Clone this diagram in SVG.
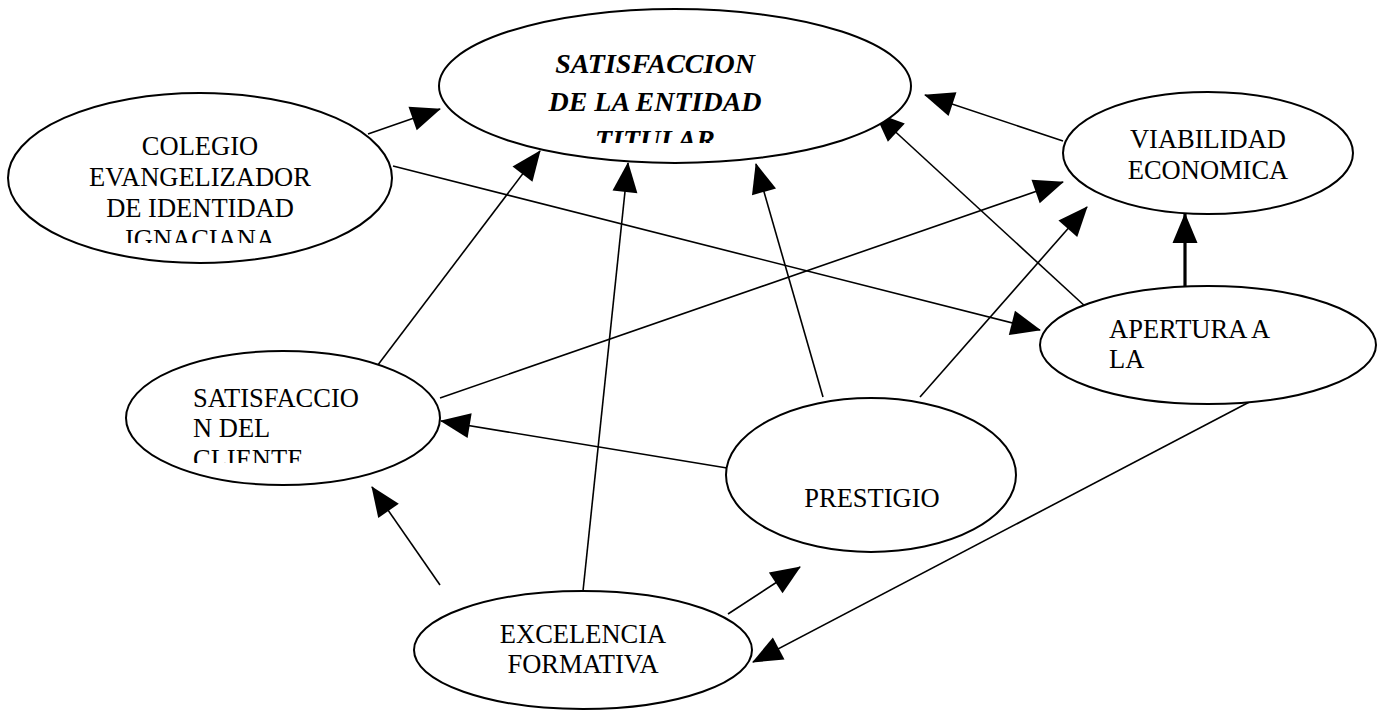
<svg xmlns="http://www.w3.org/2000/svg" width="1385" height="711" viewBox="0 0 1385 711">
<style>
.n{fill:#fff;stroke:#000;stroke-width:2}
.t{font-family:"Liberation Serif","Times New Roman",serif;font-size:26.5px;fill:#000}
.c{text-anchor:middle}
.bi{font-weight:bold;font-style:italic;font-size:28px}
.e{fill:none;stroke:#000;stroke-width:1.6;marker-end:url(#ah)}
.k{fill:none;stroke:#000;stroke-width:3.2;marker-end:url(#ah)}
</style>
<defs>
<marker id="ah" markerUnits="userSpaceOnUse" markerWidth="30" markerHeight="26" refX="29" refY="12.5" orient="auto" overflow="visible">
<path d="M0,0 L30,12.5 L0,25 Z" fill="#000"/>
</marker>
<clipPath id="cm"><rect x="430" y="0" width="500" height="143"/></clipPath>
<clipPath id="cc"><rect x="0" y="80" width="400" height="163"/></clipPath>
<clipPath id="cs"><rect x="120" y="340" width="330" height="123"/></clipPath>
</defs>
<rect width="1385" height="711" fill="#fff"/>
<g id="connectors">
<line class="e" x1="368" y1="134" x2="440" y2="109"/>
<line class="e" x1="393" y1="166" x2="1040" y2="330"/>
<line class="e" x1="368" y1="378" x2="540" y2="151"/>
<line class="e" x1="440" y1="398" x2="1063" y2="182"/>
<line class="e" x1="727" y1="468" x2="441" y2="421"/>
<line class="e" x1="823" y1="397" x2="756" y2="164"/>
<line class="e" x1="920" y1="397" x2="1087" y2="207"/>
<line class="e" x1="583" y1="591" x2="628" y2="163"/>
<line class="e" x1="440" y1="585" x2="372" y2="487"/>
<line class="e" x1="728" y1="614" x2="800" y2="567"/>
<line class="e" x1="1257" y1="398" x2="753" y2="662"/>
<line class="e" x1="1087" y1="308" x2="875" y2="113"/>
<line class="e" x1="1063" y1="141" x2="925" y2="95"/>
<line class="k" x1="1185" y1="287" x2="1185" y2="214"/>
</g>
<g id="satisfaccion-entidad">
<ellipse class="n" cx="675" cy="86" rx="236" ry="77"/>
<g clip-path="url(#cm)">
<text class="t c bi" x="655" y="73">SATISFACCION</text>
<text class="t c bi" x="655" y="111">DE LA ENTIDAD</text>
<text class="t c bi" x="655" y="149">TITULAR</text>
</g>
</g>
<g id="colegio">
<ellipse class="n" cx="200" cy="178" rx="192" ry="85"/>
<g clip-path="url(#cc)">
<text class="t c" x="200" y="155">COLEGIO</text>
<text class="t c" x="200" y="186">EVANGELIZADOR</text>
<text class="t c" x="200" y="217">DE IDENTIDAD</text>
<text class="t c" x="200" y="248">IGNACIANA</text>
</g>
</g>
<g id="viabilidad">
<ellipse class="n" cx="1208" cy="153" rx="145" ry="61"/>
<text class="t c" x="1208" y="148">VIABILIDAD</text>
<text class="t c" x="1208" y="179">ECONOMICA</text>
</g>
<g id="apertura">
<ellipse class="n" cx="1208" cy="345" rx="168" ry="59"/>
<text class="t" x="1109" y="338">APERTURA A</text>
<text class="t" x="1109" y="368">LA</text>
</g>
<g id="satisfaccion-cliente">
<ellipse class="n" cx="283" cy="418" rx="157" ry="67"/>
<g clip-path="url(#cs)">
<text class="t" x="193" y="407">SATISFACCIO</text>
<text class="t" x="193" y="437">N DEL</text>
<text class="t" x="193" y="468">CLIENTE</text>
</g>
</g>
<g id="prestigio">
<ellipse class="n" cx="871" cy="475" rx="145" ry="77"/>
<text class="t c" x="872" y="507">PRESTIGIO</text>
</g>
<g id="excelencia">
<ellipse class="n" cx="583" cy="650" rx="169" ry="59"/>
<text class="t c" x="583" y="643">EXCELENCIA</text>
<text class="t c" x="583" y="673">FORMATIVA</text>
</g>
</svg>
